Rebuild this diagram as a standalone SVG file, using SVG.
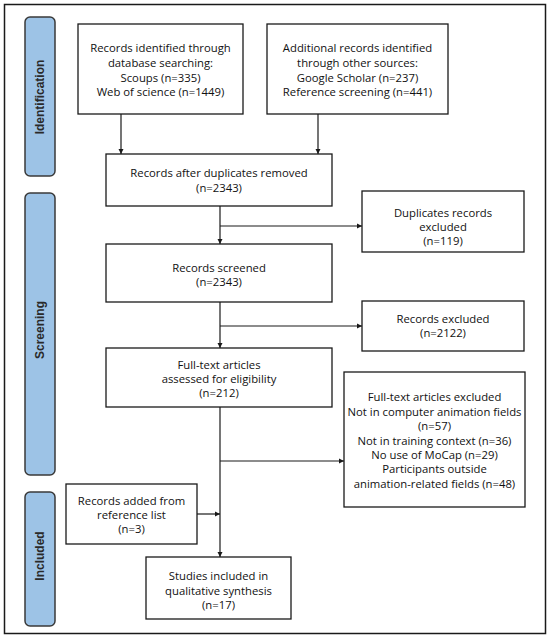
<svg xmlns="http://www.w3.org/2000/svg" width="550" height="639" viewBox="0 0 550 639">
<defs>
<marker id="ah" markerWidth="6" markerHeight="6" refX="5" refY="3" orient="auto" markerUnits="userSpaceOnUse">
<path d="M0,0.5 L5,3 L0,5.5 Z" fill="#1a1a1a"/>
</marker>
<style>
.box{fill:#fff;stroke:#1a1a1a;stroke-width:1.3}
.lab{fill:#9dc3e6;stroke:#3a3a3a;stroke-width:1.5}
.t{font-family:"Open Sans","Liberation Sans",sans-serif;font-size:11.3px;fill:#111;text-anchor:middle}
.lt{font-family:"Liberation Sans",Arial,sans-serif;font-size:12px;font-weight:bold;fill:#2a2a2a;text-anchor:middle}
.c{fill:none;stroke:#1a1a1a;stroke-width:1.2}
</style>
</defs>
<rect x="0" y="0" width="550" height="639" fill="#fff"/>
<rect x="4.5" y="4.5" width="541" height="629" fill="none" stroke="#1a1a1a" stroke-width="1.5"/>

<g id="label-identification">
<rect class="lab" x="25" y="17" width="30" height="159" rx="5"/>
<text class="lt" transform="translate(44,97) rotate(-90)">Identification</text>
</g>
<g id="label-screening">
<rect class="lab" x="25" y="193" width="30" height="282" rx="5"/>
<text class="lt" transform="translate(44,330) rotate(-90)">Screening</text>
</g>
<g id="label-included">
<rect class="lab" x="25" y="492" width="30" height="134" rx="5"/>
<text class="lt" transform="translate(44,556) rotate(-90)">Included</text>
</g>

<g id="connectors">
<line class="c" x1="121" y1="114" x2="121" y2="154" marker-end="url(#ah)"/>
<line class="c" x1="318" y1="114" x2="318" y2="154" marker-end="url(#ah)"/>
<line class="c" x1="220" y1="206" x2="220" y2="244" marker-end="url(#ah)"/>
<line class="c" x1="220" y1="226" x2="362" y2="226" marker-end="url(#ah)"/>
<line class="c" x1="220" y1="302" x2="220" y2="348" marker-end="url(#ah)"/>
<line class="c" x1="220" y1="326" x2="362" y2="326" marker-end="url(#ah)"/>
<line class="c" x1="220" y1="407" x2="220" y2="557" marker-end="url(#ah)"/>
<line class="c" x1="220" y1="461" x2="344" y2="461" marker-end="url(#ah)"/>
<line class="c" x1="197" y1="514" x2="220" y2="514" marker-end="url(#ah)"/>
</g>

<g id="db-search">
<rect class="box" x="78" y="24" width="165" height="90"/>
<text class="t" x="160.5" y="52">Records identified through</text>
<text class="t" x="160.5" y="67">database searching:</text>
<text class="t" x="160.5" y="82">Scoups (n=335)</text>
<text class="t" x="160.5" y="96">Web of science (n=1449)</text>
</g>
<g id="other-sources">
<rect class="box" x="267" y="24" width="181" height="90"/>
<text class="t" x="357.5" y="52">Additional records identified</text>
<text class="t" x="357.5" y="67">through other sources:</text>
<text class="t" x="357.5" y="82">Google Scholar (n=237)</text>
<text class="t" x="357.5" y="96">Reference screening (n=441)</text>
</g>
<g id="after-duplicates">
<rect class="box" x="106" y="154" width="226" height="52"/>
<text class="t" x="219" y="177">Records after duplicates removed</text>
<text class="t" x="219" y="192">(n=2343)</text>
</g>
<g id="duplicates-excluded">
<rect class="box" x="362" y="191" width="162" height="61"/>
<text class="t" x="443" y="217">Duplicates records</text>
<text class="t" x="443" y="231">excluded</text>
<text class="t" x="443" y="245">(n=119)</text>
</g>
<g id="screened">
<rect class="box" x="106" y="244" width="226" height="58"/>
<text class="t" x="219" y="272">Records screened</text>
<text class="t" x="219" y="286">(n=2343)</text>
</g>
<g id="records-excluded">
<rect class="box" x="362" y="301" width="162" height="50"/>
<text class="t" x="443" y="323">Records excluded</text>
<text class="t" x="443" y="337">(n=2122)</text>
</g>
<g id="full-text">
<rect class="box" x="106" y="348" width="226" height="59"/>
<text class="t" x="219" y="369">Full-text articles</text>
<text class="t" x="219" y="383">assessed for eligibility</text>
<text class="t" x="219" y="397">(n=212)</text>
</g>
<g id="full-text-excluded">
<rect class="box" x="344" y="372" width="181" height="135"/>
<text class="t" x="434.5" y="401">Full-text articles excluded</text>
<text class="t" x="434.5" y="416">Not in computer animation fields</text>
<text class="t" x="434.5" y="430">(n=57)</text>
<text class="t" x="434.5" y="445">Not in training context (n=36)</text>
<text class="t" x="434.5" y="459">No use of MoCap (n=29)</text>
<text class="t" x="434.5" y="473">Participants outside</text>
<text class="t" x="434.5" y="488">animation-related fields (n=48)</text>
</g>
<g id="reference-list">
<rect class="box" x="66" y="484" width="131" height="60"/>
<text class="t" x="131.5" y="505">Records added from</text>
<text class="t" x="131.5" y="519">reference list</text>
<text class="t" x="131.5" y="533">(n=3)</text>
</g>
<g id="included">
<rect class="box" x="146" y="557" width="145" height="62"/>
<text class="t" x="218.5" y="580">Studies included in</text>
<text class="t" x="218.5" y="595">qualitative synthesis</text>
<text class="t" x="218.5" y="609">(n=17)</text>
</g>
</svg>
